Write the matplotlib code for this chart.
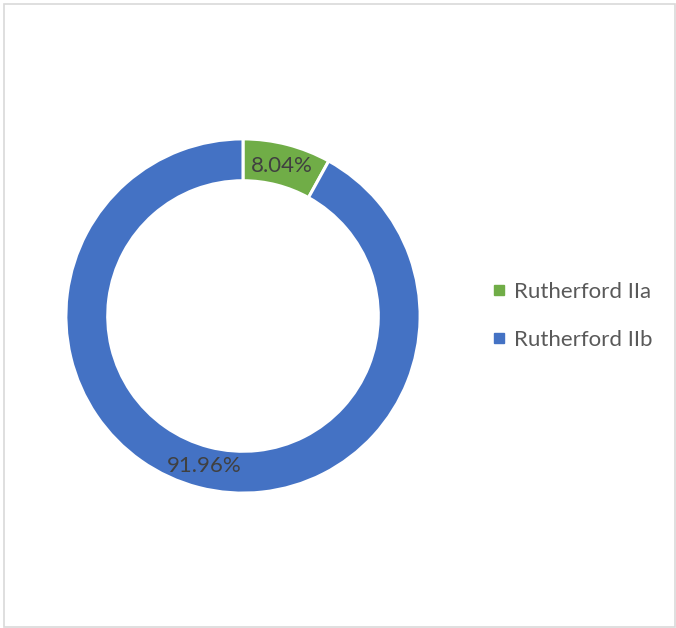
import matplotlib
matplotlib.use("Agg")
from matplotlib import pyplot as plt
from matplotlib.patches import Rectangle
from matplotlib.lines import Line2D

labels = ["Rutherford IIa", "Rutherford IIb"]
values = [8.04, 91.96]
colors = ["#70AD47", "#4472C4"]

plt.rcParams['font.family'] = ['Lato', 'DejaVu Sans']

fig = plt.figure(figsize=(6.76, 6.28), dpi=100)
W, H = 676, 628

# light frame around the chart area
fig.patches.append(Rectangle((4 / W, 1 / H), 671 / W, 623 / H, transform=fig.transFigure,
                             fill=False, edgecolor="#D9D9D9", linewidth=1.2))

cx, cy, r = 243, 316, 178
ax = fig.add_axes([(cx - r) / W, (H - cy - r) / H, 2 * r / W, 2 * r / H])

wedges, texts, autotexts = ax.pie(
    values, colors=colors, startangle=90, counterclock=False,
    radius=0.995, autopct="%.2f%%", pctdistance=0.875,
    wedgeprops=dict(width=0.235, edgecolor="white", linewidth=2.2),
    textprops=dict(color="#404040", fontsize=16))
ax.set_xlim(-1, 1)
ax.set_ylim(-1, 1)
ax.set_aspect("equal")
ax.axis("off")

handles = [Line2D([], [], marker="s", linestyle="none", markersize=7,
                  markerfacecolor=c, markeredgecolor=c) for c in colors]
fig.legend(handles, labels, loc="center left", bbox_to_anchor=(466 / W, 1 - 316 / H),
           frameon=False, fontsize=16, labelcolor="#595959", handletextpad=0.05,
           labelspacing=1.25, handlelength=1.2)

fig.savefig("out.png", dpi=100)
